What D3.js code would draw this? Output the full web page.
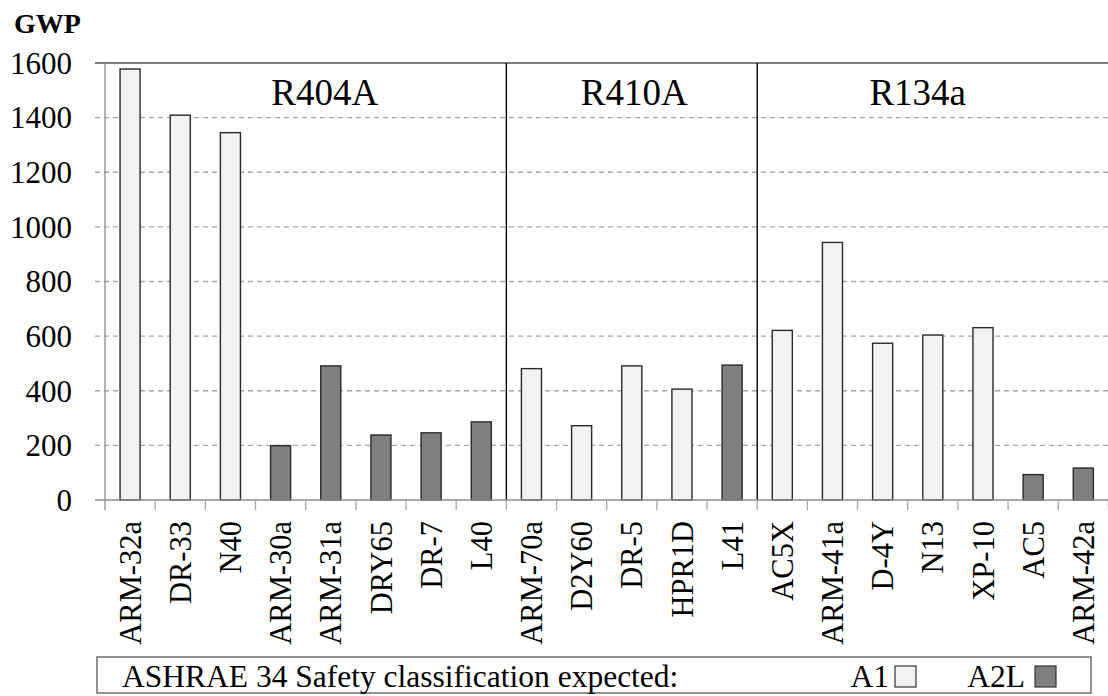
<!DOCTYPE html>
<html>
<head>
<meta charset="utf-8">
<script src="https://cdn.jsdelivr.net/npm/d3@7"></script>
<style>
  html, body { margin: 0; padding: 0; background: #fff; }
  svg { display: block; font-family: "Liberation Serif", "DejaVu Serif", serif; }
</style>
</head>
<body>
<svg id="chart" width="1108" height="696"></svg>
<script>
const categories = ["ARM-32a","DR-33","N40","ARM-30a","ARM-31a","DRY65","DR-7","L40",
                    "ARM-70a","D2Y60","DR-5","HPR1D","L41",
                    "AC5X","ARM-41a","D-4Y","N13","XP-10","AC5","ARM-42a"];
const gwp = [1578,1409,1345,199,491,238,246,286,
             481,272,491,406,494,
             621,943,574,604,631,93,117];
const safety = ["A1","A1","A1","A2L","A2L","A2L","A2L","A2L",
                "A1","A1","A1","A1","A2L",
                "A1","A1","A1","A1","A1","A2L","A2L"];
const groups = ["R404A","R410A","R134a"];
const groupStart = [0, 8, 13];
const groupLabelPos = [4.38, 10.55, 16.2];
const yTicks = [0,200,400,600,800,1000,1200,1400,1600];
const legendTitle = "ASHRAE 34 Safety classification expected:";
const legendKeys = ["A1","A2L"];
const yTitle = "GWP";

const colors = { A1: "#f2f2f2", A2L: "#7f7f7f" };

const svg = d3.select("#chart");
const pLeft = 105, pRight = 1108.4, pTop = 63, pBottom = 500;

const x = d3.scaleBand().domain(d3.range(categories.length)).range([pLeft, pRight]).padding(0);
const step = x.step();
const xPos = i => pLeft + i * step;
const y = d3.scaleLinear().domain([0, 1600]).range([pBottom, pTop]);

// gridlines
svg.append("g").selectAll("line").data(yTicks.filter(t => t > 0 && t < 1600)).join("line")
  .attr("x1", 95).attr("x2", 1108).attr("y1", d => y(d)).attr("y2", d => y(d))
  .attr("stroke", "#a6a6a6").attr("stroke-width", 1.3).attr("stroke-dasharray", "5,4");

// top line
svg.append("line").attr("x1", 95).attr("x2", 1108).attr("y1", y(1600)).attr("y2", y(1600))
  .attr("stroke", "#505050").attr("stroke-width", 1.3);

// y axis labels
svg.append("g").selectAll("text").data(yTicks).join("text")
  .attr("x", 72).attr("y", d => y(d)).attr("dy", "0.35em")
  .attr("text-anchor", "end").attr("font-size", 31).attr("fill", "#000")
  .text(d => d);

svg.append("text").attr("x", 14).attr("y", 33).attr("font-size", 28).attr("font-weight", "bold")
  .text(yTitle);

// bars
svg.append("g").selectAll("rect").data(categories).join("rect")
  .attr("x", (d, i) => x(i) + step * 0.3)
  .attr("width", step * 0.4)
  .attr("y", (d, i) => y(gwp[i]))
  .attr("height", (d, i) => y(0) - y(gwp[i]))
  .attr("fill", (d, i) => colors[safety[i]])
  .attr("stroke", "#2a2a2a").attr("stroke-width", 1.4);

// group dividers
svg.append("g").selectAll("line").data(groupStart.slice(1)).join("line")
  .attr("x1", d => xPos(d)).attr("x2", d => xPos(d))
  .attr("y1", pTop).attr("y2", pBottom)
  .attr("stroke", "#000").attr("stroke-width", 1.4);

// group labels
svg.append("g").selectAll("text").data(groups).join("text")
  .attr("x", (d, i) => xPos(groupLabelPos[i]))
  .attr("y", 105).attr("text-anchor", "middle").attr("font-size", 37)
  .text(d => d);

// baseline & y axis
svg.append("line").attr("x1", 95).attr("x2", 1108).attr("y1", pBottom).attr("y2", pBottom)
  .attr("stroke", "#8c8c8c").attr("stroke-width", 1.3);
svg.append("line").attr("x1", pLeft).attr("x2", pLeft).attr("y1", pTop).attr("y2", 510)
  .attr("stroke", "#8c8c8c").attr("stroke-width", 1.3);

// x tick marks
svg.append("g").selectAll("line").data(d3.range(1, categories.length + 1)).join("line")
  .attr("x1", d => xPos(d)).attr("x2", d => xPos(d))
  .attr("y1", pBottom).attr("y2", 510)
  .attr("stroke", "#a6a6a6").attr("stroke-width", 1.3);

// x labels
svg.append("g").selectAll("text").data(categories).join("text")
  .attr("transform", (d, i) => `translate(${x(i) + step / 2},521) rotate(-90)`)
  .attr("dy", "0.35em").attr("text-anchor", "end").attr("font-size", 30.5)
  .text(d => d);

// legend
svg.append("rect").attr("x", 97).attr("y", 657).attr("width", 994).attr("height", 36)
  .attr("fill", "#fff").attr("stroke", "#555").attr("stroke-width", 1.3);
svg.append("text").attr("x", 122).attr("y", 687).attr("font-size", 31.5).text(legendTitle);
const legTextEnd = [889, 1025];
const sqX = [895, 1035];
legendKeys.forEach((k, i) => {
  svg.append("text").attr("x", legTextEnd[i]).attr("y", 687).attr("text-anchor", "end")
    .attr("font-size", 31.5).text(k);
  svg.append("rect").attr("x", sqX[i]).attr("y", 666).attr("width", 21).attr("height", 21)
    .attr("fill", colors[k]).attr("stroke", "#333").attr("stroke-width", 1.2);
});
</script>
</body>
</html>
